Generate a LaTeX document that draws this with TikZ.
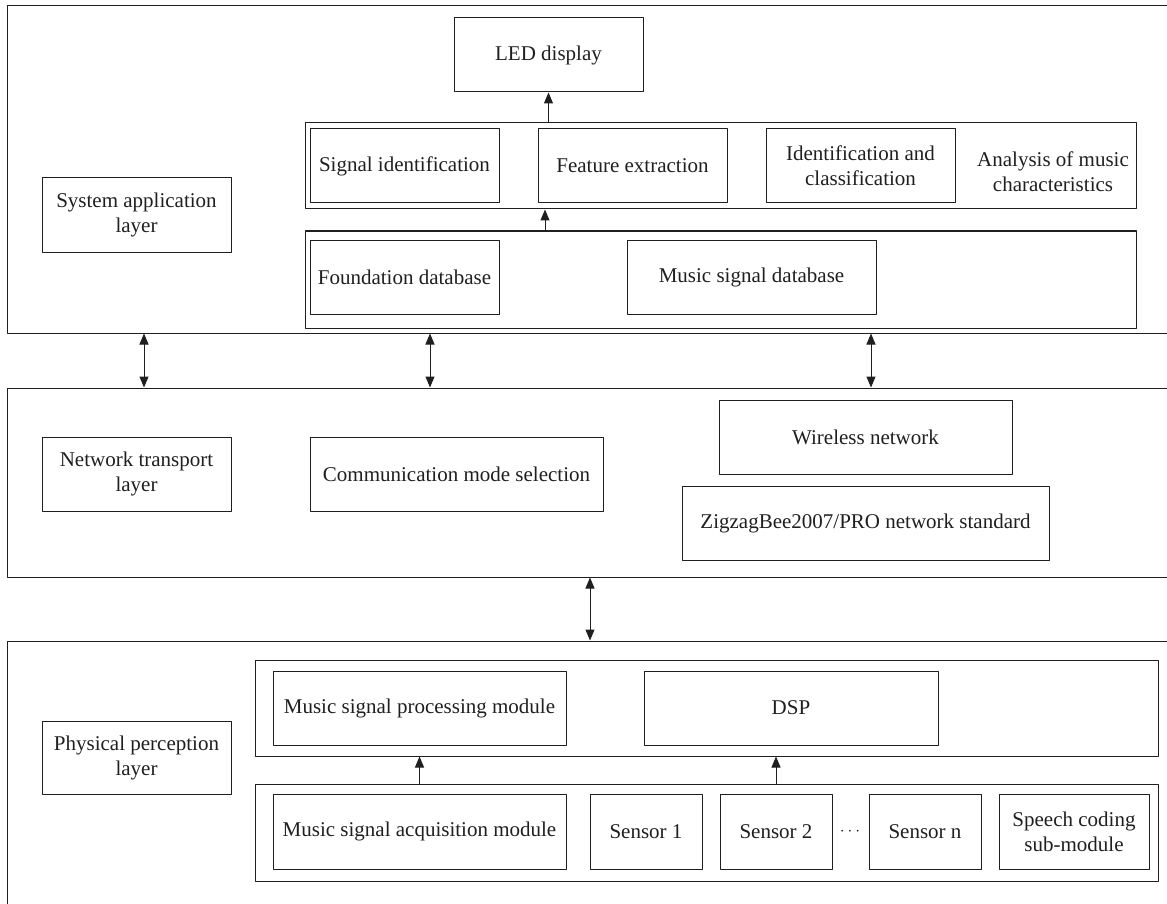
\documentclass[tikz,border=0pt]{standalone}
\usepackage{fontspec}
\setmainfont{Liberation Serif}
\usetikzlibrary{arrows.meta}

\begin{document}
\begin{tikzpicture}[x=1pt, y=-1pt, line join=round, color=black!88, line width=1pt, font=\fontsize{21}{25}\selectfont, >={Triangle[length=11pt,width=9pt]}]
	\tikzset{box/.style={draw, inner sep=0pt, align=center}}
	\useasboundingbox (0,0) rectangle (1167,904);
	\clip (0,0) rectangle (1167,904);
	% layers
	\node[box, minimum width=1180, minimum height=327] (sysL) at (597,169.5) {};
	\node[box, minimum width=1180, minimum height=189] (netL) at (597,482.5) {};
	\node[box, minimum width=1180, minimum height=279] (phyL) at (597,780.5) {};
	% system application layer
	\node[box, minimum width=189, minimum height=74] (sapp) at (136.5,215) {System application\\layer};
	\node[box, minimum width=189, minimum height=74] (led) at (548.5,55) {LED display};
	\node[box, minimum width=831, minimum height=86] (ana) at (720.5,166) {};
	\node[box, minimum width=831, minimum height=97] (db) at (720.5,279.5) {};
	\node[box, minimum width=189, minimum height=74] (sigid) at (404.5,166) {Signal identification};
	\node[box, minimum width=189, minimum height=74] (feat) at (632.5,166) {Feature extraction};
	\node[box, minimum width=189, minimum height=74] (idcl) at (860.5,166) {Identification and\\classification};
	\node[align=center, inner sep=0pt] (anatxt) at (1053,172) {Analysis of music\\characteristics};
	\node[box, minimum width=189, minimum height=74] (fdb) at (404.5,277) {Foundation database};
	\node[box, minimum width=249, minimum height=74] (msdb) at (751.5,277) {Music signal database};
	% network transport layer
	\node[box, minimum width=189, minimum height=74] (ntl) at (136.5,474) {Network transport\\layer};
	\node[box, minimum width=293, minimum height=74] (cms) at (456.5,474) {Communication mode selection};
	\node[box, minimum width=293, minimum height=74] (wn) at (865.5,437) {Wireless network};
	\node[box, minimum width=367, minimum height=74] (zb) at (865.5,523) {ZigzagBee2007/PRO network standard};
	% physical perception layer
	\node[box, minimum width=189, minimum height=73] (ppl) at (136.5,757.5) {Physical perception\\layer};
	\node[box, minimum width=903, minimum height=96] (proc) at (706.5,708) {};
	\node[box, minimum width=903, minimum height=97] (acq) at (706.5,832.5) {};
	\node[box, minimum width=293, minimum height=74] (mspm) at (419.5,708) {Music signal processing module};
	\node[box, minimum width=294, minimum height=74] (dsp) at (791,708) {DSP};
	\node[box, minimum width=293, minimum height=75] (msam) at (419.5,831.5) {Music signal acquisition module};
	\node[box, minimum width=112, minimum height=75] (s1) at (646,831.5) {Sensor 1};
	\node[box, minimum width=112, minimum height=75] (s2) at (776,831.5) {Sensor 2};
	\node (dots) at (850,832) {\fontsize{17}{19}\selectfont$\cdots$};
	\node[box, minimum width=112, minimum height=75] (sn) at (925,831.5) {Sensor n};
	\node[box, minimum width=150, minimum height=75] (scs) at (1074,831.5) {Speech coding\\sub-module};
	% connectors
	\foreach \xa in {144,430,871}
		\draw[<->] (sysL.south -| \xa,0) -- (netL.north -| \xa,0);
	\draw[<->] (netL.south -| 590,0) -- (phyL.north -| 590,0);
	\draw[->] (ana.north -| led.south) -- (led.south);
	\draw[->] (db.north -| 545,0) -- (ana.south -| 545,0);
	\draw[->] (acq.north -| msam) -- (proc.south -| msam);
	\draw[->] (acq.north -| s2) -- (proc.south -| s2);
\end{tikzpicture}
\end{document}
